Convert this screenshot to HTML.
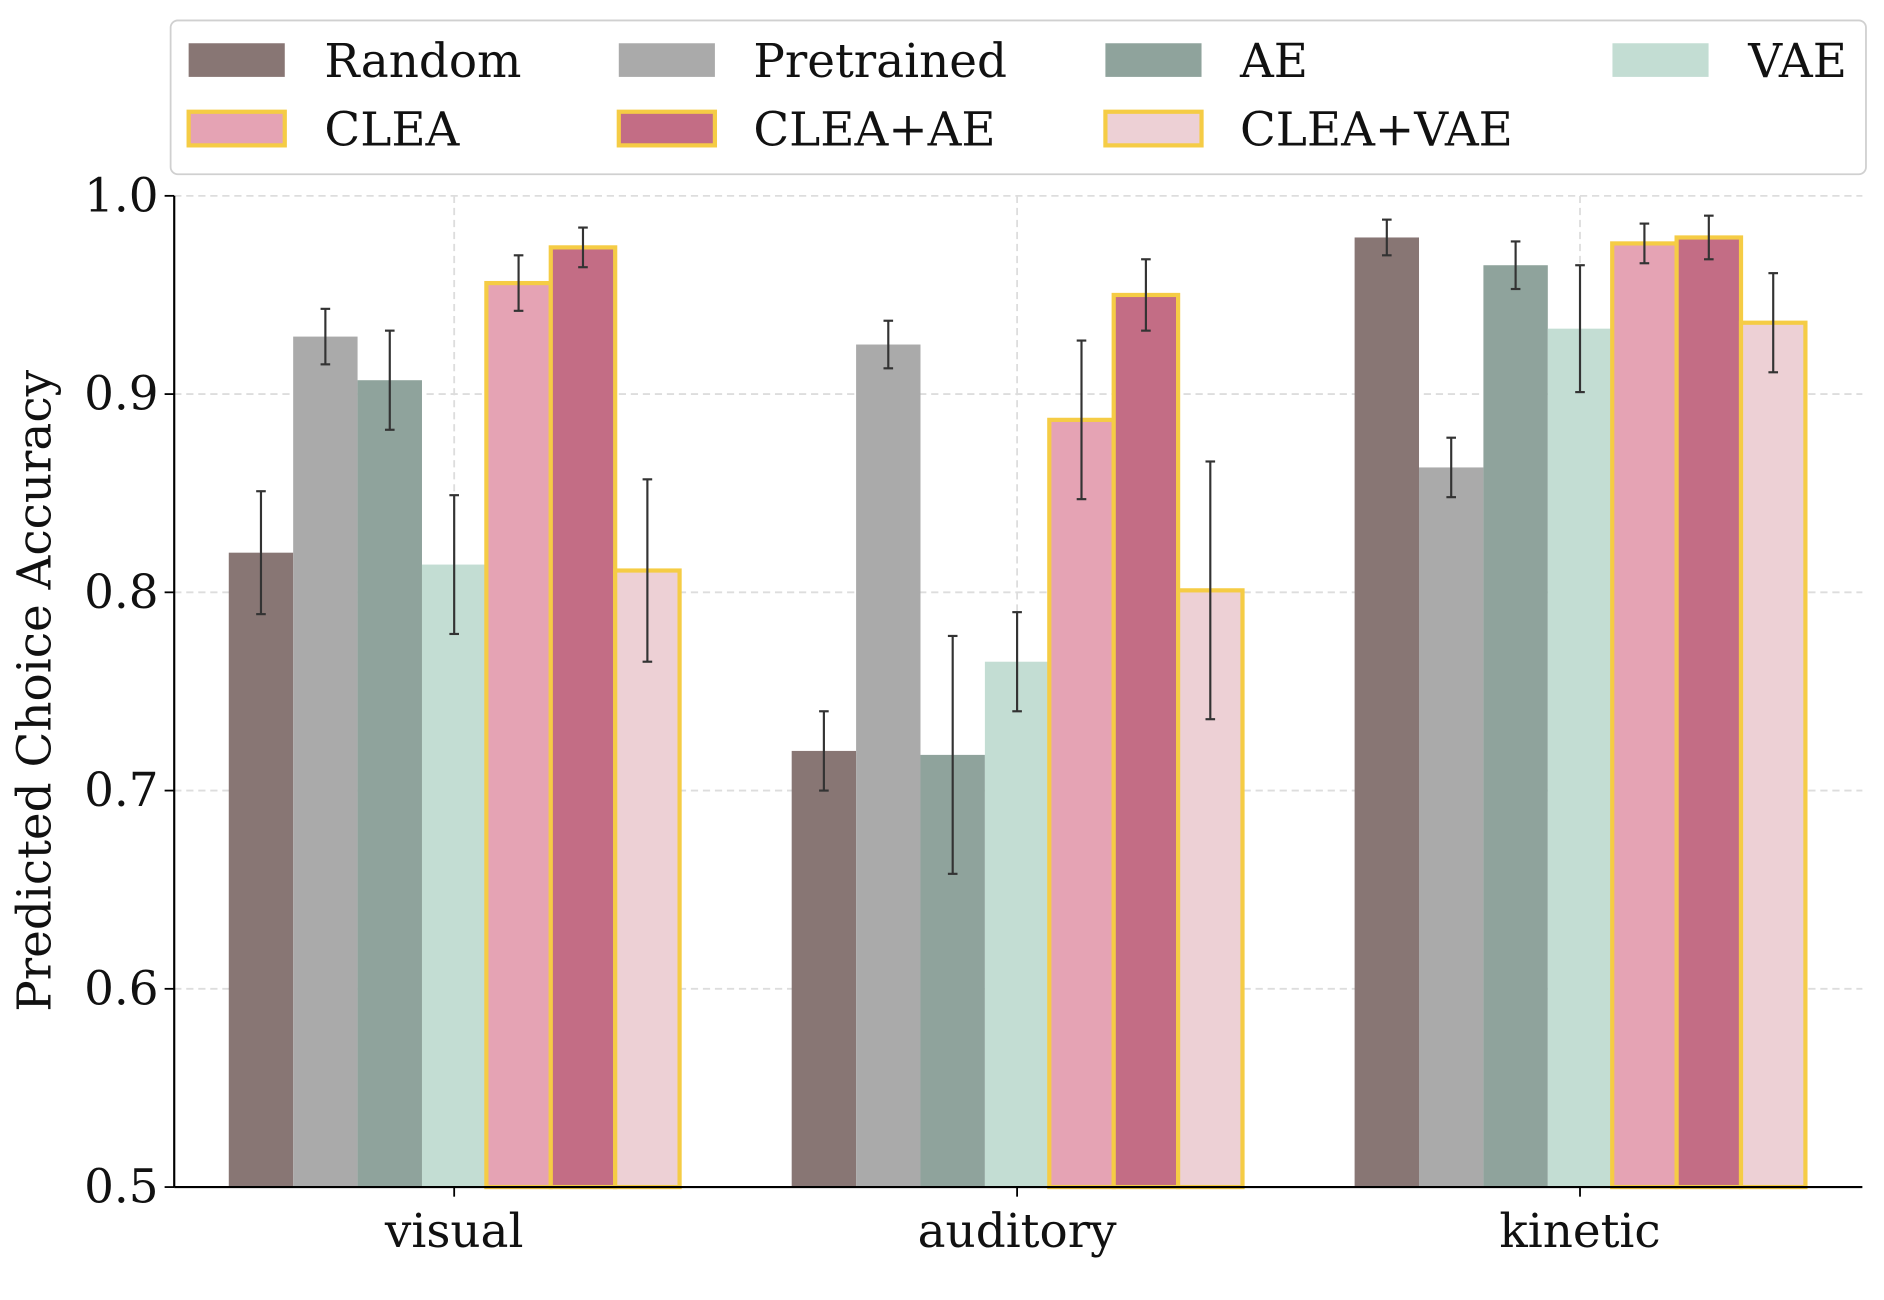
<!DOCTYPE html>
<html><head><meta charset="utf-8"><style>
html,body{margin:0;padding:0;background:#fff;}
svg{display:block;font-family:"DejaVu Serif","Liberation Serif",serif;}
</style></head><body>
<svg id="chart" width="1884" height="1300" viewBox="0 0 1568 1082" preserveAspectRatio="none" xmlns="http://www.w3.org/2000/svg">
<rect x="0" y="0" width="1568" height="1082" fill="#fff"/>
<g id="grid"></g>
<g id="bars"></g>
<g id="axes"></g>
<g id="legend"></g>
</svg>
<script>
const categories = ["visual","auditory","kinetic"];
const seriesNames = ["Random","Pretrained","AE","VAE","CLEA","CLEA+AE","CLEA+VAE"];
const randomVals = [0.820,0.720,0.979];
const pretrainedVals = [0.929,0.925,0.863];
const aeVals = [0.907,0.718,0.965];
const vaeVals = [0.814,0.765,0.933];
const cleaVals = [0.956,0.887,0.976];
const cleaAeVals = [0.974,0.950,0.979];
const cleaVaeVals = [0.811,0.801,0.936];
const randomErr = [0.031,0.020,0.009];
const pretrainedErr = [0.014,0.012,0.015];
const aeErr = [0.025,0.060,0.012];
const vaeErr = [0.035,0.025,0.032];
const cleaErr = [0.014,0.040,0.010];
const cleaAeErr = [0.010,0.018,0.011];
const cleaVaeErr = [0.046,0.065,0.025];
const yTicks = [0.5,0.6,0.7,0.8,0.9,1.0];
const yTickLabels = ["0.5","0.6","0.7","0.8","0.9","1.0"];

const values = [randomVals,pretrainedVals,aeVals,vaeVals,cleaVals,cleaAeVals,cleaVaeVals];
const errs = [randomErr,pretrainedErr,aeErr,vaeErr,cleaErr,cleaAeErr,cleaVaeErr];
const colors = ["#887674","#aaaaaa","#8fa39c","#c3ddd3","#e5a3b4","#c36d85","#edd0d5"];
const edged = [false,false,false,false,true,true,true];
const NS="http://www.w3.org/2000/svg";
const X0=145,X1=1550,Y0=988,Y1=163,yMin=0.5,yMax=1.0;
const FS=39;
const y=v=>Y0-(v-yMin)/(yMax-yMin)*(Y0-Y1);
const groupC=i=>378+i*468.5;
const bw=53.6;
function mk(p,tag,at){const e=document.createElementNS(NS,tag);for(const k in at)e.setAttribute(k,at[k]);p.appendChild(e);return e;}
const grid=document.getElementById('grid'),bars=document.getElementById('bars'),axes=document.getElementById('axes'),leg=document.getElementById('legend');
yTicks.forEach((t,i)=>{
  if(i>0){const l=mk(grid,'line',{x1:X0,x2:X1,y1:y(t),y2:y(t),stroke:'#dddddd','stroke-width':1.5,'stroke-dasharray':'6,4'});
  
  }
  const tk=mk(axes,'line',{x1:X0-8,x2:X0,y1:y(t),y2:y(t),stroke:'#000','stroke-width':1.5});
  
  
  const tx=mk(axes,'text',{x:X0-13,y:y(t)+13,'text-anchor':'end','font-size':FS,fill:'#111'});
  tx.textContent=yTickLabels[i];
  
  
});
categories.forEach((c,i)=>{
  const l=mk(grid,'line',{x1:groupC(i),x2:groupC(i),y1:Y1,y2:Y0,stroke:'#dddddd','stroke-width':1.5,'stroke-dasharray':'6,4'});
  
  
  const tk=mk(axes,'line',{x1:groupC(i),x2:groupC(i),y1:Y0,y2:Y0+8,stroke:'#000','stroke-width':1.5});
  
  
  const tx=mk(axes,'text',{x:groupC(i),y:Y0+50,'text-anchor':'middle','font-size':FS,fill:'#111'});
  tx.textContent=c;
  
  
});
values.forEach((arr,s)=>{
  arr.forEach((v,i)=>{
    const x=groupC(i)-3.5*bw+s*bw;
    const r=mk(bars,'rect',{x:x,y:y(v),width:bw,height:Y0-y(v),fill:colors[s]});
    if(edged[s]){r.setAttribute('stroke','#f5cc45');r.setAttribute('stroke-width',3.5);}
    
    
    const e=errs[s][i],cx=x+bw/2;
    const g=mk(bars,'g',{stroke:'#333','stroke-width':1.8});
    
    
    mk(g,'line',{x1:cx,x2:cx,y1:y(v-e),y2:y(v+e)});
    mk(g,'line',{x1:cx-4,x2:cx+4,y1:y(v-e),y2:y(v-e)});
    mk(g,'line',{x1:cx-4,x2:cx+4,y1:y(v+e),y2:y(v+e)});
  });
});
const ya=mk(axes,'line',{x1:X0,x2:X0,y1:Y1,y2:Y0,stroke:'#000','stroke-width':1.8});


const xa=mk(axes,'line',{x1:X0,x2:X1,y1:Y0,y2:Y0,stroke:'#000','stroke-width':1.8});


const yt=mk(axes,'text',{x:0,y:0,transform:'translate(42,575) rotate(-90)','text-anchor':'middle','font-size':FS,fill:'#111'});
yt.textContent='Predicted Choice Accuracy';


const lb=mk(leg,'rect',{x:142,y:17,width:1411,height:128,rx:6,fill:'#fff',stroke:'#d0d0d0','stroke-width':1.5});


const px=[157,515,920,1342],tx=[270,627,1032,1455],ry=[50,107];
seriesNames.forEach((n,s)=>{
  const col=s%4,row=Math.floor(s/4);
  const g=mk(leg,'g',{});
  
  
  const r=mk(g,'rect',{x:px[col],y:ry[row]-14,width:80,height:28,fill:colors[s]});
  if(edged[s]){r.setAttribute('stroke','#f5cc45');r.setAttribute('stroke-width',3.5);}
  const t=mk(g,'text',{x:tx[col],y:ry[row]+14,'font-size':FS,fill:'#111'});
  t.textContent=n;
});
</script>
</body></html>
